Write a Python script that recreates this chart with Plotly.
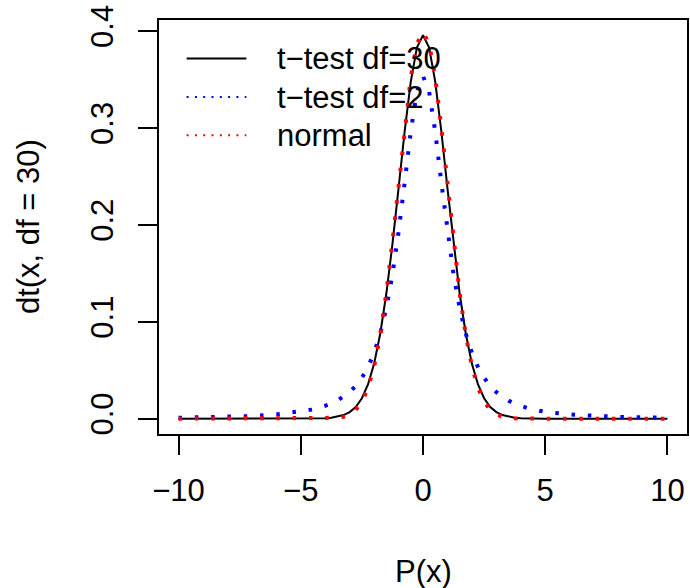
import plotly.graph_objects as go

# ---- data ----
x_vals = [-10, -9, -8, -7, -6,
          -5, -4.75, -4.5, -4.25, -4, -3.75, -3.5, -3.25, -3, -2.75, -2.5, -2.25, -2, -1.75, -1.5, -1.25,
          -1, -0.75, -0.5, -0.25, 0, 0.25, 0.5, 0.75, 1, 1.25, 1.5, 1.75, 2, 2.25, 2.5, 2.75, 3, 3.25,
          3.5, 3.75, 4, 4.25, 4.5, 4.75, 5,
          6, 7, 8, 9, 10]

t_df30 = [0, 0, 0, 0, 0,
          0.0000, 0.0001, 0.0001, 0.0003, 0.0005, 0.0010, 0.0020, 0.0037, 0.0068, 0.0121, 0.0211, 0.0353,
          0.0568, 0.0877, 0.1289, 0.1801, 0.2380, 0.2966, 0.3479, 0.3830, 0.3956, 0.3830, 0.3479, 0.2966,
          0.2380, 0.1801, 0.1289, 0.0877, 0.0568, 0.0353, 0.0211, 0.0121, 0.0068, 0.0037, 0.0020, 0.0010,
          0.0005, 0.0003, 0.0001, 0.0001, 0.0000,
          0, 0, 0, 0, 0]

t_df2 = [0.0010, 0.0013, 0.0019, 0.0027, 0.0043,
         0.0071, 0.0082, 0.0095, 0.0111, 0.0131, 0.0155, 0.0186, 0.0225, 0.0274, 0.0338, 0.0422, 0.0533,
         0.0680, 0.0878, 0.1141, 0.1487, 0.1925, 0.2438, 0.2963, 0.3376, 0.3536, 0.3376, 0.2963, 0.2438,
         0.1925, 0.1487, 0.1141, 0.0878, 0.0680, 0.0533, 0.0422, 0.0338, 0.0274, 0.0225, 0.0186, 0.0155,
         0.0131, 0.0111, 0.0095, 0.0082, 0.0071,
         0.0043, 0.0027, 0.0019, 0.0013, 0.0010]

normal = [0, 0, 0, 0, 0,
          0.0000, 0.0000, 0.0000, 0.0000, 0.0001, 0.0004, 0.0009, 0.0020, 0.0044, 0.0091, 0.0175, 0.0317,
          0.0540, 0.0863, 0.1295, 0.1826, 0.2420, 0.3011, 0.3521, 0.3867, 0.3989, 0.3867, 0.3521, 0.3011,
          0.2420, 0.1826, 0.1295, 0.0863, 0.0540, 0.0317, 0.0175, 0.0091, 0.0044, 0.0020, 0.0009, 0.0004,
          0.0001, 0.0000, 0.0000, 0.0000, 0.0000,
          0, 0, 0, 0, 0]

series_names = ["t\u2212test df=30", "t\u2212test df=2", "normal"]
series_colors = ["black", "blue", "red"]

x_tickvals = [-10, -5, 0, 5, 10]
y_tickvals = [0.0, 0.1, 0.2, 0.3, 0.4]
y_ticktext = ["0.0", "0.1", "0.2", "0.3", "0.4"]

x_title = "P(x)"
y_title = "dt(x, df = 30)"

# ---- figure ----
FONT = "Liberation Sans, Arial, Helvetica, sans-serif"
FS = 31
DOT = "3.5px,12.8px"

fig = go.Figure()
fig.add_trace(go.Scatter(x=x_vals, y=t_df30, mode="lines", name=series_names[0],
                         line=dict(color=series_colors[0], width=2)))
fig.add_trace(go.Scatter(x=x_vals, y=t_df2, mode="lines", name=series_names[1],
                         line=dict(color=series_colors[1], width=4, dash=DOT)))
fig.add_trace(go.Scatter(x=x_vals, y=normal, mode="lines", name=series_names[2],
                         line=dict(color=series_colors[2], width=4, dash=DOT)))

axis_common = dict(showgrid=False, zeroline=False, showline=True, mirror=True,
                   linecolor="black", linewidth=2, ticks="outside", ticklen=19,
                   tickwidth=2, tickcolor="black",
                   tickfont=dict(family=FONT, size=FS, color="black"))

fig.update_layout(
    width=690, height=588, autosize=False,
    margin=dict(l=159, r=1, t=20, b=154, pad=0),
    paper_bgcolor="white", plot_bgcolor="white",
    showlegend=False,
    font=dict(family=FONT, size=FS, color="black"),
    xaxis=dict(range=[-10.8, 10.8], tickvals=x_tickvals, ticklabelstandoff=9, **axis_common),
    yaxis=dict(range=[-0.0158, 0.4114], tickvals=y_tickvals, ticktext=y_ticktext,
               tickangle=-90, ticklabelstandoff=13, **axis_common),
)

# axis titles
fig.add_annotation(text=x_title, xref="paper", yref="paper", x=0.5, y=-0.332,
                   xanchor="center", yanchor="middle", showarrow=False,
                   font=dict(family=FONT, size=FS, color="black"))
fig.add_annotation(text=y_title, xref="paper", yref="paper", x=-0.2480, y=0.5,
                   xanchor="center", yanchor="middle", textangle=-90, showarrow=False,
                   font=dict(family=FONT, size=FS, color="black"))

# manual legend (R style, no box)
leg_y = [0.9068, 0.8140, 0.7215]
leg_dash = ["solid", "2px,6.3px", "2px,6.3px"]
for name, col, yy, dsh in zip(series_names, series_colors, leg_y, leg_dash):
    fig.add_shape(type="line", xref="paper", yref="paper", x0=0.0523, x1=0.1655, y0=yy, y1=yy,
                  line=dict(color=col, width=2, dash=dsh))
    fig.add_annotation(text=name, xref="paper", yref="paper", x=0.2189, y=yy,
                       xanchor="left", yanchor="middle", showarrow=False,
                       font=dict(family=FONT, size=FS, color="black"))

fig.write_html("out.html", config={"displayModeBar": False},
               post_script="document.body.style.margin='0';")
